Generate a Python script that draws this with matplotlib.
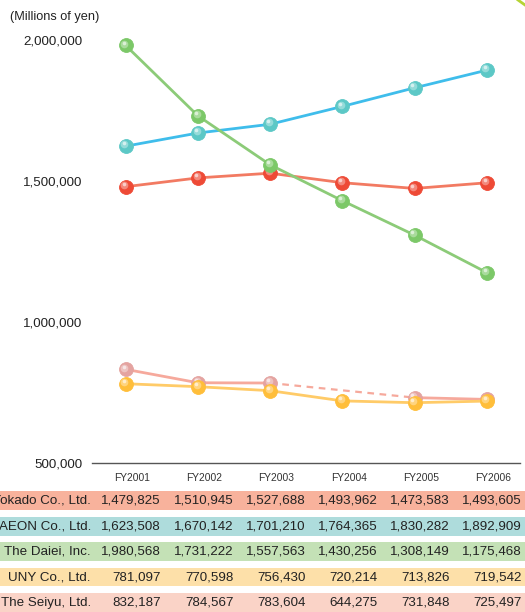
import matplotlib.pyplot as plt
import matplotlib.transforms as mtransforms
import numpy as np

# data
years = ["FY2001", "FY2002", "FY2003", "FY2004", "FY2005", "FY2006"]
companies = ["Ito-Yokado Co., Ltd.", "AEON Co., Ltd.", "The Daiei, Inc.",
             "UNY Co., Ltd.", "The Seiyu, Ltd."]
ito_yokado = [1479825, 1510945, 1527688, 1493962, 1473583, 1493605]
aeon = [1623508, 1670142, 1701210, 1764365, 1830282, 1892909]
daiei = [1980568, 1731222, 1557563, 1430256, 1308149, 1175468]
uny = [781097, 770598, 756430, 720214, 713826, 719542]
seiyu = [832187, 784567, 783604, 644275, 731848, 725497]
seiyu_skip = 3  # FY2004 not plotted, dashed link instead

line_colors = ["#F27A62", "#3FBDEB", "#8CCB78", "#FFCB68", "#F6A99C"]
marker_colors = ["#EE4A36", "#5CC8C6", "#7CC868", "#FFBE3A", "#E4A3A0"]
row_colors = ["#F8B29C", "#AEDCDC", "#C4E1B6", "#FDE0A9", "#FAD3C7"]

plt.rcParams['font.family'] = ['Liberation Sans', 'DejaVu Sans']
FS = 9.6

W, H = 525, 612
fig = plt.figure(figsize=(W / 100, H / 100), dpi=100)

# axes placed in pixels
ax_left, ax_right = 92, 520
ax_top, ax_bot = 30, 463
ax = fig.add_axes([ax_left / W, 1 - ax_bot / H, (ax_right - ax_left) / W, (ax_bot - ax_top) / H])

px_per_cat = 72.2
x0_px = 125.7
ax.set_xlim(-(x0_px - ax_left) / px_per_cat, 5 + (ax_right - (x0_px + 5 * px_per_cat)) / px_per_cat)
px_per_500k = 141.0
ax.set_ylim(500000, 500000 + (ax_bot - ax_top) / px_per_500k * 500000)

x = np.arange(len(years))


def sphere(xs, ys, color, z):
    ax.plot(xs, ys, 'o', ms=10, mfc=color, mec=color, mew=0.6, zorder=z)
    hl = mtransforms.offset_copy(ax.transData, fig=fig, x=-1.0, y=1.3, units='points')
    ax.plot(xs, ys, 'o', ms=5.5, mfc='white', mec='none', alpha=0.35, transform=hl, zorder=z + 0.1)
    hl2 = mtransforms.offset_copy(ax.transData, fig=fig, x=-1.5, y=2.0, units='points')
    ax.plot(xs, ys, 'o', ms=2.6, mfc='white', mec='none', alpha=0.6, transform=hl2, zorder=z + 0.2)


# Seiyu (gap at FY2004, dashed link)
s = np.array(seiyu, dtype=float)
s_solid = s.copy()
s_solid[seiyu_skip] = np.nan
xs_link = [x[seiyu_skip - 1], x[seiyu_skip + 1]]
ys_link = [seiyu[seiyu_skip - 1], seiyu[seiyu_skip + 1]]
ax.plot(x[:seiyu_skip], s[:seiyu_skip], color=line_colors[4], lw=2, zorder=2)
ax.plot(x[seiyu_skip + 1:], s[seiyu_skip + 1:], color=line_colors[4], lw=2, zorder=2)
ax.plot(xs_link, ys_link, color=line_colors[4], lw=1.6, ls=(0, (3, 2.5)), zorder=2)
keep = ~np.isnan(s_solid)
sphere(x[keep], s_solid[keep], marker_colors[4], 3)

# UNY
ax.plot(x, uny, color=line_colors[3], lw=2, zorder=4)
sphere(x, uny, marker_colors[3], 5)

# Ito-Yokado
ax.plot(x, ito_yokado, color=line_colors[0], lw=2, zorder=6)
sphere(x, ito_yokado, marker_colors[0], 7)

# AEON
ax.plot(x, aeon, color=line_colors[1], lw=2, zorder=8)
sphere(x, aeon, marker_colors[1], 9)

# Daiei
ax.plot(x, daiei, color=line_colors[2], lw=2, zorder=10)
sphere(x, daiei, marker_colors[2], 11)

for sp in ["top", "right", "left"]:
    ax.spines[sp].set_visible(False)
ax.spines["bottom"].set_color("#555555")
ax.spines["bottom"].set_linewidth(1.0)
ax.set_xticks([])
ax.set_yticks([500000, 1000000, 1500000, 2000000])
ax.set_yticklabels([f"{v:,}" for v in [500000, 1000000, 1500000, 2000000]], fontsize=FS, color="#222222")
ax.tick_params(axis='y', length=0, pad=7)

fig.text(10 / W, 1 - 17 / H, "(Millions of yen)", fontsize=9.2, color="#222222", va='center', ha='left')

# table under the chart
blend = mtransforms.blended_transform_factory(ax.transData, fig.transFigure)
for i, yr in enumerate(years):
    fig.text(x[i] + 0.09, 1 - 478 / H, yr, fontsize=7.4, color="#333333", ha='center', va='center', transform=blend)

rows = [ito_yokado, aeon, daiei, uny, seiyu]
row_tops = [491, 517, 542, 567.5, 593]
row_h = 18.5
for name, vals, top, col in zip(companies, rows, row_tops, row_colors):
    fig.patches.append(plt.Rectangle((0, 1 - (top + row_h) / H), 1, row_h / H,
                                     transform=fig.transFigure, facecolor=col, edgecolor='none', zorder=0))
    yc = 1 - (top + row_h / 2 + 0.5) / H
    fig.text(91 / W, yc, name, fontsize=FS, color="#222222", ha='right', va='center')
    for i, v in enumerate(vals):
        fig.text(x[i] + 0.49, yc, f"{v:,}", fontsize=FS, color="#222222", ha='right', va='center', transform=blend)

# small decorative stroke in the corner
fig.add_artist(plt.Line2D([518 / W, 525 / W], [1.0, 1 - 5 / H], color="#B5D334", lw=2, transform=fig.transFigure))

fig.savefig("out.png", dpi=100)
